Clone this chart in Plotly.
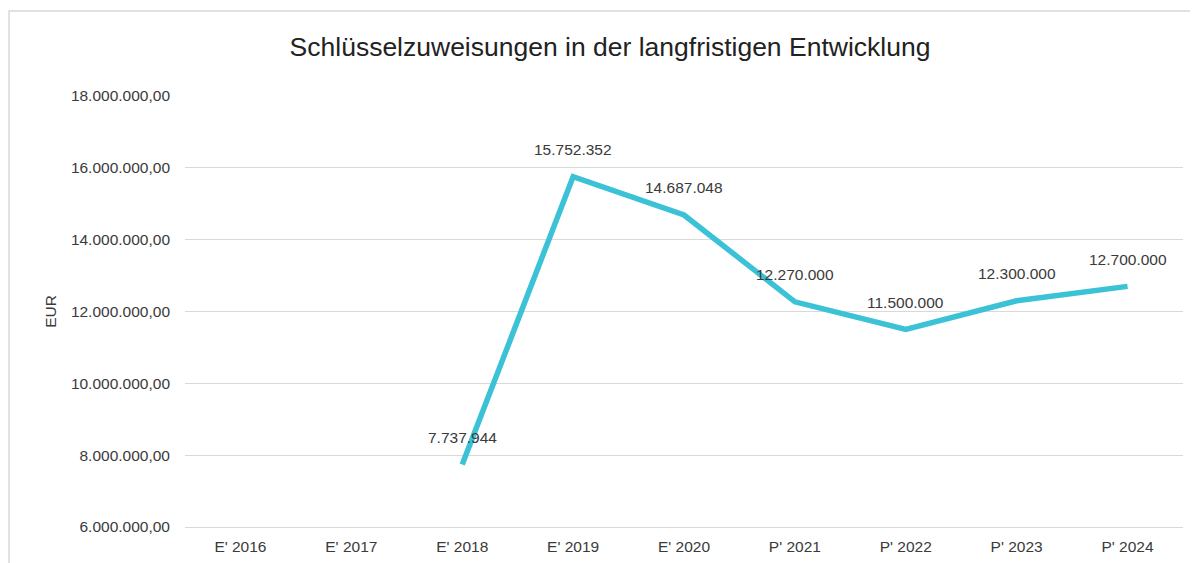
import plotly.graph_objects as go

categories = ["E' 2016", "E' 2017", "E' 2018", "E' 2019", "E' 2020",
              "P' 2021", "P' 2022", "P' 2023", "P' 2024"]
values = [None, None, 7737944, 15752352, 14687048, 12270000, 11500000, 12300000, 12700000]
value_labels = ["", "", "7.737.944", "15.752.352", "14.687.048",
                "12.270.000", "11.500.000", "12.300.000", "12.700.000"]
y_tickvals = [6000000, 8000000, 10000000, 12000000, 14000000, 16000000, 18000000]
y_ticktext = ["6.000.000,00", "8.000.000,00", "10.000.000,00", "12.000.000,00",
              "14.000.000,00", "16.000.000,00", "18.000.000,00"]

font_family = "Liberation Sans, Arial, sans-serif"
text_color = "#3A3A3A"
fs = 15.5

fig = go.Figure()
fig.add_trace(go.Scatter(
    x=categories, y=values, mode="lines",
    line=dict(color="#3BC2D6", width=5.5),
    connectgaps=False, hoverinfo="x+y",
))

for c, v, t in zip(categories, values, value_labels):
    if v is None:
        continue
    fig.add_annotation(x=c, y=v, text=t, showarrow=False, yshift=27,
                       xanchor="center", yanchor="middle",
                       font=dict(family=font_family, size=fs, color=text_color))

fig.update_layout(
    width=1198, height=563,
    margin=dict(l=177, r=23, t=88, b=44),
    paper_bgcolor="white", plot_bgcolor="white",
    showlegend=False,
    title=dict(text="Schlüsselzuweisungen in der langfristigen Entwicklung",
               x=0.5025, xanchor="center", y=0.9307, yanchor="middle",
               font=dict(family=font_family, size=26.5, color="#222222")),
    font=dict(family=font_family, size=fs, color=text_color),
    xaxis=dict(type="category", range=[-0.5, len(categories) - 0.5],
               showgrid=False, showline=True, linecolor="#D9D9D9",
               linewidth=1.3, zeroline=False, ticks="", ticklabelstandoff=5,
               tickfont=dict(size=fs, color=text_color)),
    yaxis=dict(range=[6000000, 18000000], tickvals=y_tickvals, ticktext=y_ticktext,
               showgrid=True, gridcolor="#D9D9D9", gridwidth=1.3, zeroline=False,
               showline=False, ticks="", ticklabelstandoff=14,
               tickfont=dict(size=fs, color=text_color),
               title=dict(text="EUR", font=dict(size=fs, color=text_color), standoff=10)),
)

fig.add_shape(type="rect", xref="paper", yref="paper",
              x0=-176/998, x1=1.1, y0=-0.2, y1=1 + 85/431,
              line=dict(color="#D9D9D9", width=1.5), layer="below")

fig.write_html("out.html")
